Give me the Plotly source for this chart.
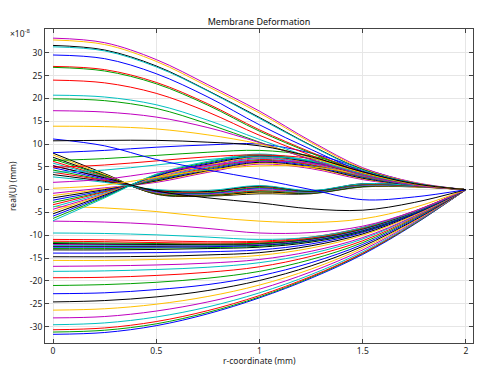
import plotly.graph_objects as go

# r-coordinate samples (mm)
r_coord = [0, 0.25, 0.5, 0.75, 1.0, 1.25, 1.5, 1.75, 2.0]

# real(U) values (x1e-8 mm)
upper = [
    [33.2, 32.2, 28.5, 23.0, 17.2, 10.6, 4.8, 1.6, 0],
    [32.8, 31.8, 28.1, 22.6, 16.8, 10.3, 4.6, 1.5, 0],
    [31.6, 30.6, 27.1, 21.7, 15.8, 9.7, 4.4, 1.4, 0],
    [31.3, 30.4, 26.9, 21.6, 15.6, 9.6, 4.3, 1.4, 0],
    [29.5, 28.7, 25.4, 20.3, 14.2, 8.8, 4.0, 1.3, 0],
    [27.0, 26.3, 23.5, 18.8, 13.1, 8.2, 3.8, 1.2, 0],
    [26.8, 26.0, 23.2, 18.5, 12.8, 8.0, 3.7, 1.2, 0],
    [24.0, 23.4, 21.1, 17.0, 11.9, 7.5, 3.6, 1.2, 0],
    [20.7, 20.3, 18.6, 15.2, 11.0, 7.0, 3.4, 1.1, 0],
    [19.9, 19.5, 17.8, 14.4, 10.4, 6.6, 3.2, 1.1, 0],
    [17.3, 17.0, 15.9, 13.6, 10.3, 6.6, 3.2, 1.0, 0],
    [13.9, 13.8, 13.3, 12.0, 10.0, 7.0, 3.7, 1.2, 0],
    [11.1, 9.6, 6.6, 4.3, 2.3, 0.0, -2.2, -1.6, 0],
    [10.7, 10.8, 10.8, 10.4, 9.6, 7.2, 3.9, 1.3, 0],
]
upper_colors = ["m", "y", "k", "c", "b", "r", "g", "r", "c", "g", "m", "y", "b", "k"]

rising = [
    [8.1, 8.6, 9.3, 9.8, 10.0, 8.0, 4.6, 1.5, 0],
    [6.4, 6.8, 7.5, 8.2, 8.6, 7.4, 4.3, 1.4, 0],
    [4.9, 5.4, 6.3, 7.2, 7.6, 6.8, 4.0, 1.3, 0],
    [3.8, 4.3, 5.4, 6.6, 7.2, 6.4, 3.8, 1.3, 0],
    [1.6, 2.3, 3.8, 5.3, 6.2, 5.8, 3.6, 1.2, 0],
    [0.3, 1.0, 2.7, 4.3, 5.2, 5.0, 3.3, 1.1, 0],
]
rising_colors = ["b", "g", "r", "c", "m", "y"]

falling = [
    [8.0, 3.5, -1.0, -1.4, -0.9, -0.9, 0.6, 0.6, 0],
    [7.6, 3.3, -0.9, -1.3, -0.7, -0.8, 0.7, 0.6, 0],
    [7.1, 3.1, -0.9, -1.3, -0.5, -0.8, 0.7, 0.7, 0],
    [6.7, 3.0, -0.8, -1.2, -0.3, -0.7, 0.8, 0.7, 0],
    [6.2, 2.8, -0.7, -1.1, -0.2, -0.6, 0.9, 0.7, 0],
    [5.8, 2.7, -0.6, -1.0, 0.0, -0.6, 0.9, 0.7, 0],
    [5.3, 2.5, -0.5, -0.9, 0.2, -0.5, 1.0, 0.8, 0],
    [4.8, 2.3, -0.4, -0.8, 0.4, -0.4, 1.1, 0.8, 0],
    [4.3, 2.1, -0.3, -0.7, 0.5, -0.4, 1.1, 0.8, 0],
    [3.8, 2.0, -0.2, -0.5, 0.7, -0.3, 1.2, 0.8, 0],
    [3.3, 1.8, -0.1, -0.4, 0.8, -0.3, 1.3, 0.9, 0],
    [2.8, 1.6, 0.0, -0.2, 0.9, -0.2, 1.3, 0.9, 0],
    [5.2, 2.6, -0.3, -1.8, -2.9, -4.2, -4.5, -2.8, 0],
]
falling_colors = ["k", "y", "k", "g", "r", "c", "m", "b", "g", "r", "k", "c", "k"]

crossing = [
    [-0.8, 0.4, 1.6, 3.8, 5.6, 4.6, 2.2, 0.8, 0],
    [-1.3, 0.2, 1.8, 4.0, 5.8, 4.8, 2.4, 0.8, 0],
    [-1.8, 0.0, 1.9, 4.2, 6.0, 5.0, 2.5, 0.9, 0],
    [-2.3, -0.2, 2.1, 4.4, 6.2, 5.2, 2.7, 0.9, 0],
    [-2.8, -0.4, 2.2, 4.6, 6.4, 5.4, 2.8, 1.0, 0],
    [-3.3, -0.5, 2.4, 4.8, 6.6, 5.5, 2.9, 1.0, 0],
    [-3.8, -0.7, 2.5, 5.0, 6.8, 5.7, 3.0, 1.0, 0],
    [-4.3, -0.9, 2.7, 5.2, 7.0, 5.8, 3.1, 1.1, 0],
    [-4.8, -1.0, 2.8, 5.4, 7.2, 5.9, 3.2, 1.1, 0],
    [-5.3, -1.2, 3.0, 5.6, 7.3, 6.0, 3.3, 1.1, 0],
    [-5.8, -1.4, 3.1, 5.8, 7.5, 6.1, 3.4, 1.2, 0],
    [-6.3, -1.6, 3.3, 6.0, 7.6, 6.2, 3.5, 1.2, 0],
    [-6.8, -1.8, 3.4, 6.2, 7.8, 6.3, 3.6, 1.2, 0],
]
crossing_colors = ["m", "y", "k", "b", "g", "r", "c", "m", "y", "k", "b", "g", "c"]

lower = [
    [-31.7, -31.3, -29.8, -27.2, -23.7, -19.4, -14.2, -7.6, 0],
    [-31.2, -30.8, -29.4, -26.9, -23.5, -19.2, -14.0, -7.5, 0],
    [-30.7, -30.3, -28.9, -26.5, -23.2, -19.0, -13.9, -7.4, 0],
    [-29.6, -29.2, -27.9, -25.7, -22.6, -18.6, -13.6, -7.3, 0],
    [-28.1, -27.8, -26.6, -24.6, -21.8, -18.0, -13.2, -7.1, 0],
    [-26.4, -26.1, -25.1, -23.4, -20.9, -17.4, -12.8, -6.9, 0],
    [-24.6, -24.3, -23.5, -22.1, -19.9, -16.7, -12.4, -6.7, 0],
    [-22.8, -22.6, -21.9, -20.8, -18.9, -16.0, -12.0, -6.5, 0],
    [-21.0, -20.8, -20.3, -19.4, -17.9, -15.3, -11.6, -6.3, 0],
    [-19.3, -19.2, -18.8, -18.1, -16.9, -14.6, -11.2, -6.1, 0],
    [-17.9, -17.8, -17.5, -17.0, -16.0, -14.0, -10.8, -5.9, 0],
    [-16.8, -16.7, -16.5, -16.1, -15.3, -13.5, -10.5, -5.8, 0],
    [-15.5, -15.5, -15.3, -15.0, -14.4, -12.8, -10.0, -5.6, 0],
    [-14.7, -14.7, -14.6, -14.3, -13.8, -12.3, -9.7, -5.4, 0],
    [-13.9, -13.9, -13.8, -13.6, -13.2, -11.9, -9.4, -5.3, 0],
    [-13.2, -13.2, -13.1, -12.9, -12.6, -11.5, -9.2, -5.2, 0],
    [-12.9, -12.9, -12.8, -12.7, -12.4, -11.3, -9.1, -5.1, 0],
    [-12.6, -12.6, -12.6, -12.5, -12.2, -11.2, -9.0, -5.1, 0],
    [-12.4, -12.4, -12.4, -12.3, -12.1, -11.1, -8.9, -5.0, 0],
    [-12.2, -12.2, -12.2, -12.2, -12.0, -11.0, -8.8, -5.0, 0],
    [-12.0, -12.0, -12.1, -12.1, -11.9, -10.9, -8.7, -4.9, 0],
    [-11.8, -11.9, -12.0, -12.0, -11.8, -10.8, -8.6, -4.9, 0],
    [-11.6, -11.7, -11.8, -11.9, -11.7, -10.7, -8.5, -4.8, 0],
    [-11.3, -11.4, -11.6, -11.7, -11.5, -10.6, -8.4, -4.8, 0],
    [-10.9, -11.0, -11.2, -11.4, -11.3, -10.4, -8.3, -4.7, 0],
    [-9.5, -9.6, -9.9, -10.4, -10.9, -10.4, -8.3, -4.8, 0],
    [-6.9, -7.1, -7.6, -8.5, -9.5, -9.4, -8.0, -4.7, 0],
    [-3.7, -4.0, -4.8, -6.0, -6.9, -7.2, -6.4, -3.9, 0],
]
lower_colors = ["b", "g", "r", "c", "m", "y", "k", "b", "g", "r", "c", "m", "y", "k",
                "b", "k", "g", "b", "k", "c", "m", "k", "g", "r", "r", "c", "m", "y"]

x_ticks = [0, 0.5, 1, 1.5, 2]
x_tick_labels = ["0", "0.5", "1", "1.5", "2"]
y_ticks = [-30, -25, -20, -15, -10, -5, 0, 5, 10, 15, 20, 25, 30]
y_tick_labels = ["-30", "-25", "-20", "-15", "-10", "-5", "0", "5", "10", "15", "20", "25", "30"]

palette = {"b": "#0000ff", "g": "#00a000", "r": "#ff0000", "c": "#00c0c0",
           "m": "#c000c0", "y": "#ffc000", "k": "#000000"}

fig = go.Figure()
groups = [(lower, lower_colors), (crossing, crossing_colors), (falling, falling_colors),
          (rising, rising_colors), (upper, upper_colors)]
for series, cols in groups:
    for vals, c in zip(series, cols):
        fig.add_trace(go.Scatter(
            x=r_coord, y=vals, mode="lines",
            line=dict(color=palette[c], width=1, shape="spline", smoothing=1.0),
            showlegend=False, hoverinfo="skip"))

font = "Noto Sans"
fig.update_layout(
    width=479, height=366,
    margin=dict(l=45, r=6, t=29, b=23, autoexpand=False),
    paper_bgcolor="white", plot_bgcolor="white",
    font=dict(family=font, size=9, color="#222"),
    title=dict(text="Membrane Deformation", x=(45 + 473) / 2 / 479, xanchor="center",
               y=1 - 22 / 366, yanchor="middle", font=dict(size=9, color="#111")),
)
axis_common = dict(showgrid=True, gridcolor="#e6e6e6", gridwidth=1, zeroline=False,
                   showline=True, linecolor="#444", linewidth=1, mirror="ticks",
                   ticks="inside", ticklen=4, tickcolor="#444", automargin=False,
                   tickfont=dict(size=8.5, color="#222"))
fig.update_xaxes(range=[-0.039, 2.034], tickvals=x_ticks, ticktext=x_tick_labels, **axis_common)
fig.update_yaxes(range=[-33.6, 35.2], tickvals=y_ticks, ticktext=y_tick_labels, **axis_common)

fig.add_annotation(text="r-coordinate (mm)", xref="paper", yref="paper",
                   x=0.5, y=-17.5 / 314, xanchor="center", yanchor="middle",
                   showarrow=False, font=dict(size=8.5, color="#222"))
fig.add_annotation(text="real(U) (mm)", xref="paper", yref="paper",
                   x=-33 / 428, y=0.5, xanchor="center", yanchor="middle", textangle=-90,
                   showarrow=False, font=dict(size=8.5, color="#222"))
fig.add_annotation(text="×10<sup>-8</sup>", xref="paper", yref="paper",
                   x=-37 / 428, y=1 - 4 / 314, xanchor="left", yanchor="middle",
                   showarrow=False, font=dict(size=8.5, color="#222"))

fig.write_html("out.html", config={"displayModeBar": False},
               post_script="document.body.style.margin='0';document.body.style.overflow='hidden';")
